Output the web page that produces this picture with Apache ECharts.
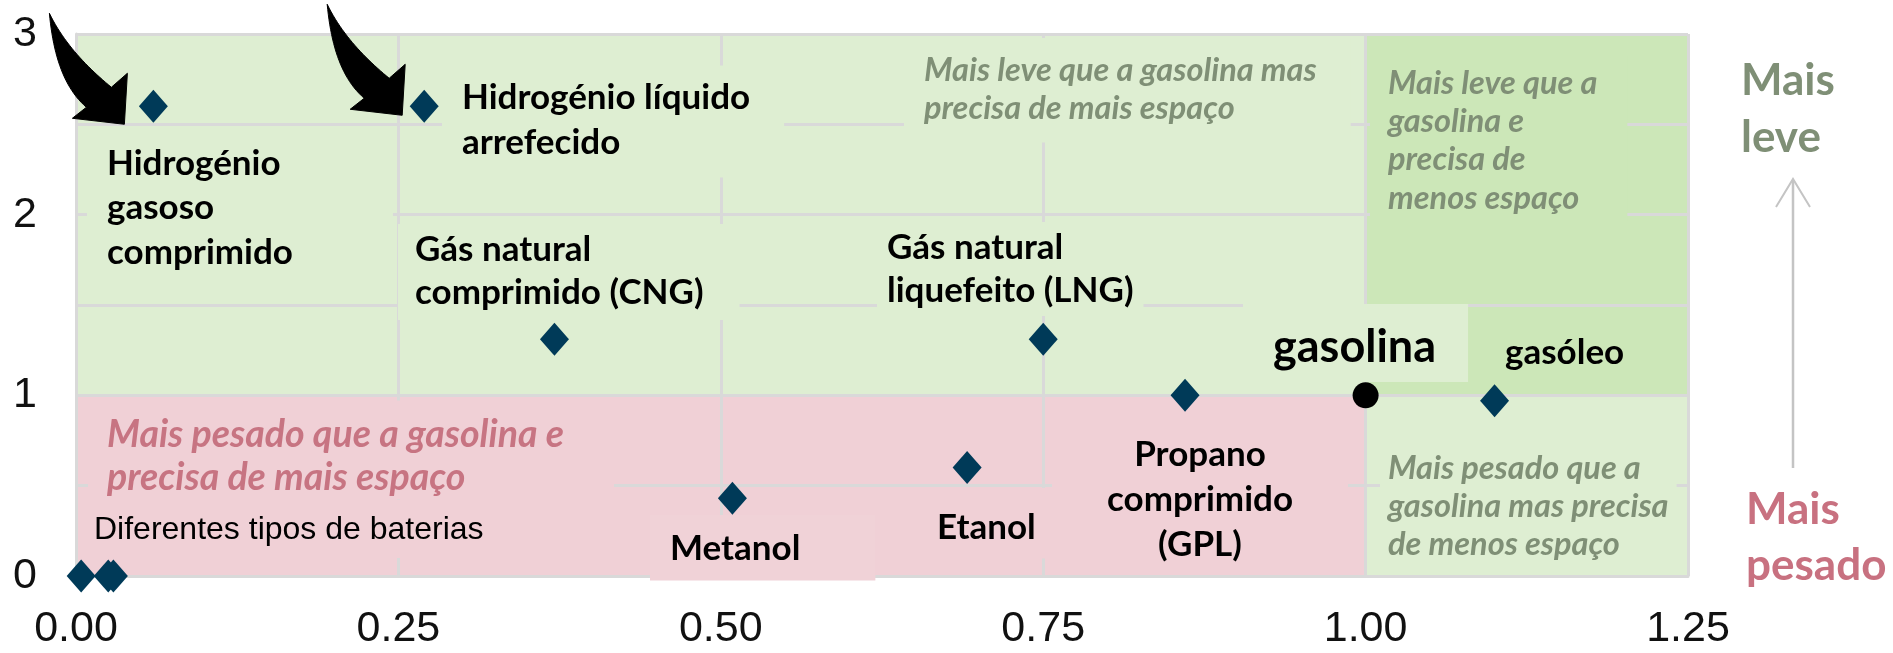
<!DOCTYPE html>
<html><head><meta charset="utf-8">
<script src="https://cdn.jsdelivr.net/npm/echarts@6/dist/echarts.min.js"></script>
<style>html,body{margin:0;padding:0;background:#fff}#c{width:1893px;height:653px}</style>
</head><body><div id="c"></div>
<script>
// ---------- data ----------
const xTicks = [0, 0.25, 0.5, 0.75, 1.0, 1.25];
const xTickLabels = ['0.00', '0.25', '0.50', '0.75', '1.00', '1.25'];
const yTicks = [0, 1, 2, 3];
const yTickLabels = ['0', '1', '2', '3'];

const fuelNames = ['Hidrogénio\ngasoso\ncomprimido', 'Hidrogénio líquido\narrefecido',
  'Gás natural\ncomprimido (CNG)', 'Gás natural\nliquefeito (LNG)',
  'Propano\ncomprimido\n(GPL)', 'Etanol', 'Metanol', 'gasóleo'];
const fuelX = [0.060, 0.270, 0.371, 0.750, 0.860, 0.691, 0.509, 1.100];
const fuelY = [2.60, 2.60, 1.31, 1.31, 1.00, 0.60, 0.43, 0.97];

const batteryName = 'Diferentes tipos de baterias';
const batteryX = [0.004, 0.025, 0.029];
const batteryY = [0, 0, 0];

const referenceName = 'gasolina';
const referenceX = [1.0];
const referenceY = [1.0];

const regionTexts = ['Mais leve que a gasolina mas\nprecisa de mais espaço',
  'Mais leve que a\ngasolina e\nprecisa de\nmenos espaço',
  'Mais pesado que a gasolina e\nprecisa de mais espaço',
  'Mais pesado que a\ngasolina mas precisa\nde menos espaço'];
const regionXFrom = [0, 1, 0, 1];
const regionXTo = [1, 1.25, 1, 1.25];
const regionYFrom = [1, 1, 0, 0];
const regionYTo = [3, 3, 1, 1];

const sideLabels = ['Mais\nleve', 'Mais\npesado'];

// ---------- styles ----------
const regionColors = ['#deeed2', '#cce7b8', '#f0d0d6', '#deeed2'];
const GRID = '#d9d9d9';
const FONT = 'Lato, "Open Sans", sans-serif';
const TICKFONT = 'Liberation Sans, Arial, sans-serif';
const MARK = '#003a58';
const GREYTXT = '#7f8f76';
const PINKTXT = '#c77482';

const chart = echarts.init(document.getElementById('c'), null, {renderer: 'canvas'});

function tickFmt(ticks, labels) {
  return function (v) {
    const i = ticks.findIndex(t => Math.abs(t - v) < 1e-9);
    return i >= 0 ? '{t|' + labels[i] + '}' : '';
  };
}
const tickRich = {t: {fontSize: 43, lineHeight: 45, fontFamily: TICKFONT, color: '#111111'}};

const areaData = regionXFrom.map((x0, i) => [
  {xAxis: x0, yAxis: regionYFrom[i], itemStyle: {color: regionColors[i], opacity: 1}},
  {xAxis: regionXTo[i], yAxis: regionYTo[i]}
]);

const option = {
  animation: false,
  backgroundColor: '#ffffff',
  grid: {left: 76, right: 205, top: 34, bottom: 77, show: false},
  xAxis: {
    type: 'value', min: 0, max: 1.25, interval: 0.25, z: 3,
    axisLine: {show: true, onZero: false, lineStyle: {color: GRID, width: 3}},
    axisTick: {show: false},
    splitLine: {show: true, lineStyle: {color: GRID, width: 3}},
    axisLabel: {show: true, margin: 31, fontSize: 43, fontFamily: TICKFONT,
      color: '#111111', showMinLabel: true, showMaxLabel: true, hideOverlap: false,
      formatter: tickFmt(xTicks, xTickLabels), rich: tickRich}
  },
  yAxis: {
    type: 'value', min: 0, max: 3, interval: 0.5, z: 3,
    axisLine: {show: true, onZero: false, lineStyle: {color: GRID, width: 3}},
    axisTick: {show: false},
    splitLine: {show: true, lineStyle: {color: GRID, width: 3}},
    axisLabel: {show: true, margin: 39, fontSize: 43, fontFamily: TICKFONT,
      color: '#111111', showMinLabel: true, showMaxLabel: true, hideOverlap: false,
      formatter: tickFmt(yTicks, yTickLabels), rich: tickRich}
  },
  series: [
    {type: 'scatter', name: 'regiões', data: [], z: 1, silent: true,
      markArea: {silent: true, data: areaData, itemStyle: {borderWidth: 0, opacity: 1}}},
    {type: 'scatter', name: 'combustíveis', z: 6, symbol: 'diamond', symbolSize: [29, 33],
      itemStyle: {color: MARK, opacity: 1}, clip: false,
      data: fuelX.map((x, i) => ({name: fuelNames[i], value: [x, fuelY[i]]}))},
    {type: 'scatter', name: batteryName, z: 6, symbol: 'diamond', symbolSize: [29, 33],
      itemStyle: {color: MARK, opacity: 1}, clip: false,
      data: batteryX.map((x, i) => [x, batteryY[i]])},
    {type: 'scatter', name: referenceName, z: 6, symbol: 'circle', symbolSize: 26,
      itemStyle: {color: '#000', opacity: 1}, clip: false,
      data: referenceX.map((x, i) => [x, referenceY[i]])}
  ]
};
chart.setOption(option);

// ---------- annotations ----------
function box(text, left, top, style, pad) {
  pad = pad || [0, 0, 0, 0];
  const alignCenter = style.align === 'center';
  return {
    type: 'text', z: 4, silent: true,
    x: alignCenter ? left : left - pad[3],
    y: top - pad[0],
    style: Object.assign({text: text, padding: pad, verticalAlign: 'top'}, style)
  };
}
const LBL = {fontFamily: FONT, fontWeight: 'bold', fontSize: 35, fill: '#000', lineHeight: 44.5};
const ITAL = {fontFamily: FONT, fontWeight: 'bold', fontStyle: 'italic', fontSize: 32.5, fill: GREYTXT, lineHeight: 38.3};
const BIG = {fontFamily: FONT, fontWeight: 'bold', fontSize: 44, lineHeight: 57};

const G = regionColors[0], DG = regionColors[1], P = regionColors[2];

const els = [];
// fuel labels
els.push(box(fuelNames[0], 107, 141, Object.assign({}, LBL, {backgroundColor: G}), [14, 100, 14, 20]));
els.push(box(fuelNames[1], 462, 75.5, Object.assign({}, LBL, {lineHeight: 45, backgroundColor: G}), [10, 34, 12, 20]));
els.push(box(fuelNames[2], 415, 228, Object.assign({}, LBL, {lineHeight: 43, backgroundColor: G}), [4, 36, 6, 17]));
els.push(box(fuelNames[3], 887, 226, Object.assign({}, LBL, {lineHeight: 43, backgroundColor: G}), [4, 10, 4, 10]));
els.push(box(fuelNames[4], 1200, 432.5, Object.assign({}, LBL, {lineHeight: 45, align: 'center', backgroundColor: P}), [2, 55, 3, 55]));
els.push(box(fuelNames[5], 937, 505, Object.assign({}, LBL, {backgroundColor: P}), [17, 17, 9, 12]));
els.push(box(fuelNames[6], 670, 526, Object.assign({}, LBL, {backgroundColor: '#f0d2d7'}), [11, 75, 10, 20]));
els.push(box(fuelNames[7], 1505, 330, Object.assign({}, LBL)));
els.push(box(referenceName, 1273, 319, Object.assign({}, BIG, {fontSize: 45, fill: '#000', lineHeight: 56, backgroundColor: G}), [15, 32, 7, 30]));
// region texts
els.push(box(regionTexts[0], 924, 51, Object.assign({}, ITAL, {backgroundColor: G}), [13, 34, 15, 20]));
els.push(box(regionTexts[1], 1388, 64, Object.assign({}, ITAL, {backgroundColor: DG}), [8, 30, 4, 18]));
els.push(box(regionTexts[2], 107, 413.5, Object.assign({}, ITAL, {fontSize: 37.5, lineHeight: 43, fill: PINKTXT, backgroundColor: P}), [13, 50, 0, 19]));
els.push(box(regionTexts[3], 1388, 449, Object.assign({}, ITAL, {backgroundColor: regionColors[3]}), [4, 8, 4, 8]));
els.push(box(batteryName, 94, 512, {fontFamily: TICKFONT, fontSize: 32, lineHeight: 36,
  fill: '#000', backgroundColor: P}, [12, 10, 10, 6]));
// side labels
els.push(box(sideLabels[0], 1741, 52, Object.assign({}, BIG, {fill: GREYTXT})));
els.push(box(sideLabels[1], 1746, 482, Object.assign({}, BIG, {fill: '#c87180', lineHeight: 56})));
// side arrow
els.push({type: 'line', z: 4, silent: true, shape: {x1: 1793, y1: 468, x2: 1793, y2: 180},
  style: {stroke: '#c4c4c4', lineWidth: 2.5}});
els.push({type: 'polyline', z: 4, silent: true, shape: {points: [[1776, 207], [1793, 179], [1810, 207]]},
  style: {stroke: '#c4c4c4', lineWidth: 2, fill: null}});

// curved black block arrows pointing at the hydrogen points (shape relative to the tip)
function cubic(a, b, c, d, n) {
  const pts = [];
  for (let k = 0; k <= n; k++) {
    const t = k / n, u = 1 - t;
    pts.push([u * u * u * a[0] + 3 * u * u * t * b[0] + 3 * u * t * t * c[0] + t * t * t * d[0],
              u * u * u * a[1] + 3 * u * u * t * b[1] + 3 * u * t * t * c[1] + t * t * t * d[1]]);
  }
  return pts;
}
const arrowShape = []
  .concat(cubic([-75, -111], [-71, -68], [-60, -36], [-38, -17], 24))
  .concat([[-52, -6], [0, 0], [3, -51], [-13, -37]])
  .concat(cubic([-13, -37], [-36, -56], [-60, -80], [-75, -111], 24).slice(1));
const p0 = chart.convertToPixel({gridIndex: 0}, [fuelX[0], fuelY[0]]);
const p1 = chart.convertToPixel({gridIndex: 0}, [fuelX[1], fuelY[1]]);
els.push({type: 'polygon', z: 5, silent: true, x: p0[0] - 29, y: p0[1] + 18,
  shape: {points: arrowShape}, style: {fill: '#000', stroke: '#000', lineWidth: 1}});
els.push({type: 'polygon', z: 5, silent: true, x: p1[0] - 22, y: p1[1] + 9,
  shape: {points: arrowShape}, style: {fill: '#000', stroke: '#000', lineWidth: 1}});

chart.setOption({graphic: {elements: els}});
</script>
</body></html>
